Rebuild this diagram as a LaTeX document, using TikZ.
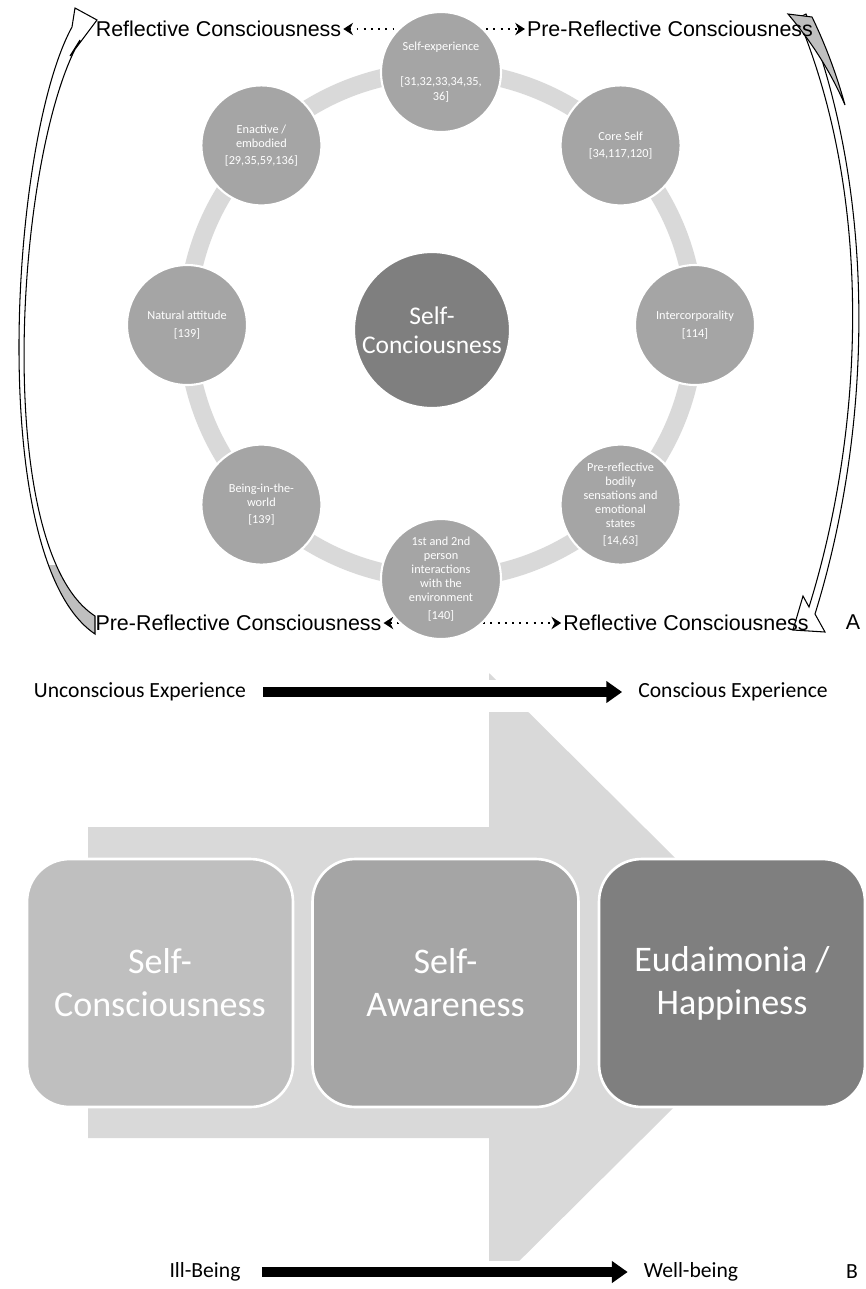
\documentclass[tikz,border=0pt]{standalone}
\usepackage{fontspec}
\setmainfont{Carlito}
\newfontfamily\arialfont{Liberation Sans}
\usetikzlibrary{arrows.meta}

\definecolor{cring}{HTML}{D9D9D9}
\definecolor{clight}{HTML}{BFBFBF}
\definecolor{cmid}{HTML}{A5A5A5}
\definecolor{cdark}{HTML}{7F7F7F}

\newcommand{\leftsweep}{(72,27) -- (75,8) -- (97,20) -- (70,56) -- (80,40) .. controls (16,150) and (-10,548) .. (95,616) -- (95,634) .. controls (-15,560) and (10,140) .. (72,27) -- cycle}

\begin{document}
\begin{tikzpicture}[x=0.02cm, y=-0.02cm,
        ring/.style={draw=cring, line width=10.2pt},
        satellite/.style={circle, fill=cmid, draw=white, line width=1.2pt, minimum size=2.4cm, inner sep=0pt, text=white, align=center, font=\fontsize{7}{8}\selectfont},
        core/.style={circle, fill=cdark, draw=white, line width=1.2pt, minimum size=3.12cm, inner sep=0pt, text=white, align=center, font=\fontsize{14.5}{16.5}\selectfont},
        stage/.style={rounded corners=0.85cm, draw=white, line width=1.5pt, minimum width=5.32cm, minimum height=4.96cm, text=white, align=center, font=\fontsize{20.5}{24.5}\selectfont},
        sidetext/.style={font=\arialfont\fontsize{12.2}{14}\selectfont, inner sep=1pt},
        plaintext/.style={font=\fontsize{12.3}{14}\selectfont, inner sep=0pt},
        dotarrow/.style={line width=1.1pt, dash pattern=on 1.1pt off 3pt, {Stealth[length=5.5pt,width=7pt]}-{Stealth[length=5.5pt,width=7pt]}},
        fatarrow/.style={line width=5.5pt, -{Triangle[length=9pt,width=12pt]}},
        sweep/.style={draw=black, line width=0.6pt, fill=white},
        tail/.style={draw=black, line width=0.6pt, fill=clight}]
    \useasboundingbox (0,0) rectangle (866,1289);

    \fill [cring] (88,827) -- (489,827) -- (489,673) -- (800,982) -- (489,1291) -- (489,1138) -- (88,1138) -- cycle;
    \fill [white] (0,680) rectangle (866,712);
    \fill [white] (0,1261) rectangle (866,1289);

    \node [stage, fill=clight] (sca) at (160,983) {Self-\\Consciousness};
    \node [stage, fill=cmid] (saw) at (445.5,983) {Self-\\Awareness};
    \node [stage, fill=cdark] (eud) at (732,983) {Eudaimonia /\\Happiness};

    \node [plaintext] (ue) at (140,692) {Unconscious Experience};
    \node [plaintext] (ce) at (733,692) {Conscious Experience};
    \node [plaintext] (ib) at (205,1272) {Ill-Being};
    \node [plaintext] (wb) at (691,1272) {Well-being};
    \node [plaintext] (labB) at (852,1272) {B};
    \draw [fatarrow, shorten <=9.5pt, shorten >=9pt] (ue) -- (ce);
    \draw [fatarrow, shorten <=12pt, shorten >=9pt] (ib) -- (wb);

    \fill [white] \leftsweep;
    \begin{scope}
        \clip (0,565) rectangle (100,640);
        \fill [clight] \leftsweep;
    \end{scope}
    \draw [sweep, fill=none] \leftsweep;
    \draw [sweep] (798,18) .. controls (874,200) and (864,430) .. (809,607) -- (803,596) -- (793,630) -- (825,632) -- (815,614) .. controls (872,430) and (878,200) .. (806,14) -- cycle;
    \draw [tail] (788,14) -- (812,17) .. controls (828,50) and (838,80) .. (845,105) .. controls (830,70) and (810,40) .. (788,14) -- cycle;

    \node [sidetext] (rcTop) at (218.5,29) {Reflective Consciousness};
    \node [sidetext] (prcTop) at (670,29) {Pre-Reflective Consciousness};
    \node [sidetext] (prcBot) at (238.5,623) {Pre-Reflective Consciousness};
    \node [sidetext] (rcBot) at (686,623) {Reflective Consciousness};
    \node [sidetext] (labA) at (853,622) {A};
    \draw [dotarrow] (rcTop) -- (prcTop);
    \draw [dotarrow] (prcBot) -- (rcBot);

    \draw [ring] (441,325) circle [radius=254];

    \node [satellite] (se) at (441,72) {Self-experience\\[12pt]{[31,32,33,34,35,}\\36]};
    \node [satellite] (cs) at (620.6,145.4) {Core Self\\[2pt]{[34,117,120]}};
    \node [satellite] (ic) at (695,325) {Intercorporality\\[2pt]{[114]}};
    \node [satellite] (pr) at (620.6,504.6) {Pre-reflective\\bodily\\sensations and\\emotional\\states\\[2pt]{[14,63]}};
    \node [satellite] (ia) at (441,579) {1st and 2nd\\person\\interactions\\with the\\environment\\[2pt]{[140]}};
    \node [satellite] (bw) at (261.4,504.6) {Being-in-the-\\world\\[2pt]{[139]}};
    \node [satellite] (na) at (187,325) {Natural attitude\\[2pt]{[139]}};
    \node [satellite] (ee) at (261.4,145.4) {Enactive /\\embodied\\[2pt]{[29,35,59,136]}};

    \node [core] (sc) at (432,330) {Self-\\Conciousness};
\end{tikzpicture}
\end{document}
